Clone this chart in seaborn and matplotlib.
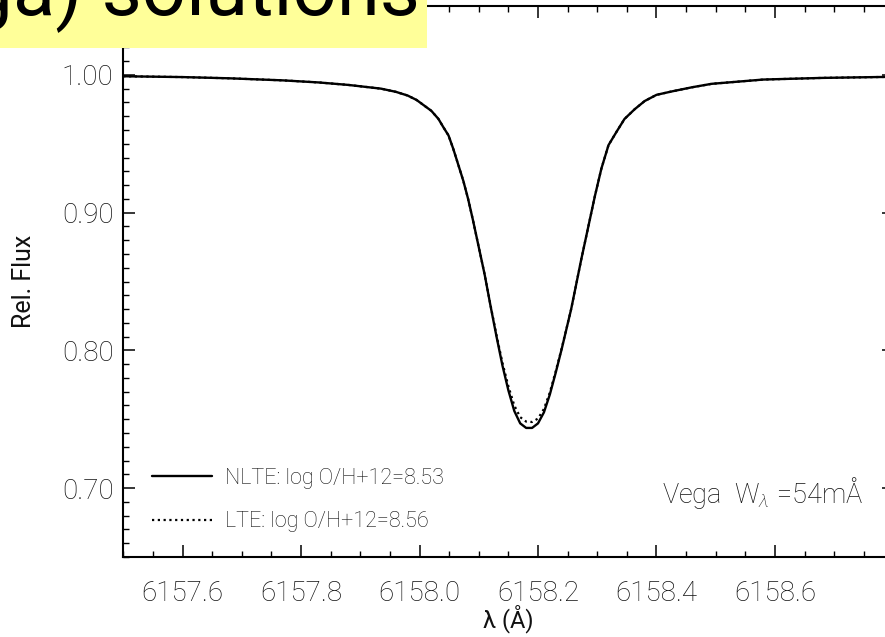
import matplotlib
matplotlib.use("Agg")
import matplotlib.pyplot as plt
import pandas as pd
import seaborn as sns
from matplotlib.ticker import MultipleLocator, FormatStrFormatter
from matplotlib.patches import Rectangle

# ---- data ----
wavelength = [6157.50, 6157.60, 6157.68, 6157.77, 6157.83, 6157.88, 6157.935, 6157.96,
              6157.98, 6157.995, 6158.008, 6158.02, 6158.032, 6158.04, 6158.049, 6158.057,
              6158.066, 6158.074, 6158.082, 6158.09, 6158.099, 6158.11, 6158.12, 6158.13,
              6158.14, 6158.15, 6158.16, 6158.17, 6158.18, 6158.19, 6158.20, 6158.21,
              6158.22, 6158.23, 6158.24, 6158.256, 6158.273, 6158.285, 6158.296, 6158.307,
              6158.319, 6158.333, 6158.346, 6158.363, 6158.38, 6158.40, 6158.426, 6158.46,
              6158.493, 6158.58, 6158.68, 6158.80]
nlte_flux = [0.9990, 0.9984, 0.9975, 0.9960, 0.9945, 0.9927, 0.9900, 0.9877,
             0.9850, 0.9818, 0.9777, 0.9739, 0.9680, 0.9622, 0.9560, 0.9463,
             0.9340, 0.9230, 0.9100, 0.8950, 0.8770, 0.8550, 0.8320, 0.8100,
             0.7890, 0.7710, 0.7560, 0.7470, 0.7437, 0.7437, 0.7470, 0.7550,
             0.7680, 0.7840, 0.8010, 0.8300, 0.8660, 0.8900, 0.9120, 0.9320,
             0.9490, 0.9590, 0.9680, 0.9750, 0.9810, 0.9855, 0.9880, 0.9910,
             0.9935, 0.9966, 0.9978, 0.9986]
lte_flux = [0.9990, 0.9984, 0.9975, 0.9960, 0.9945, 0.9927, 0.9900, 0.9877,
            0.9850, 0.9818, 0.9777, 0.9739, 0.9680, 0.9622, 0.9560, 0.9463,
            0.9340, 0.9230, 0.9100, 0.8950, 0.8770, 0.8550, 0.8325, 0.8110,
            0.7910, 0.7740, 0.7600, 0.7515, 0.7483, 0.7480, 0.7505, 0.7575,
            0.7695, 0.7850, 0.8015, 0.8300, 0.8660, 0.8900, 0.9120, 0.9320,
            0.9490, 0.9590, 0.9680, 0.9750, 0.9810, 0.9855, 0.9880, 0.9910,
            0.9935, 0.9966, 0.9978, 0.9986]
x_ticks = [6157.6, 6157.8, 6158.0, 6158.2, 6158.4, 6158.6]
y_ticks = [0.70, 0.80, 0.90, 1.00]
series_labels = ["NLTE: log O/H+12=8.53", "LTE: log O/H+12=8.56"]
annotation = "Vega  $\\mathrm{W}_{\\lambda}$ =54mÅ"
header = "(Vega) solutions"
x_label = "λ (Å)"
y_label = "Rel. Flux"

df_nlte = pd.DataFrame({"wl": wavelength, "flux": nlte_flux})
df_lte = pd.DataFrame({"wl": wavelength, "flux": lte_flux})

sns.set_theme(style="ticks")
plt.rcParams["font.family"] = ["Roboto", "DejaVu Sans"]
plt.rcParams["font.weight"] = "light"
plt.rcParams["mathtext.fontset"] = "custom"
plt.rcParams["mathtext.rm"] = "Roboto:light"
plt.rcParams["mathtext.it"] = "Roboto:italic:light"

W, H = 885, 637
fig = plt.figure(figsize=(W / 100, H / 100), dpi=100)
fig.patch.set_facecolor("white")

x0, x1 = 123.25, 893.5
y_top, y_bot = 6.0, 557.0
ax = fig.add_axes([x0 / W, 1 - y_bot / H, (x1 - x0) / W, (y_bot - y_top) / H])

txt_color = "#111111"

sns.lineplot(data=df_nlte, x="wl", y="flux", ax=ax, color="black", lw=1.7,
             label=series_labels[0], solid_joinstyle="round")
sns.lineplot(data=df_lte, x="wl", y="flux", ax=ax, color="black", lw=1.6,
             linestyle=(0, (1, 1.6)), label=series_labels[1])

ax.set_xlim(6157.5, 6158.8)
ax.set_ylim(0.65, 1.05)
ax.set_xticks(x_ticks)
ax.set_yticks(y_ticks)
ax.xaxis.set_major_formatter(FormatStrFormatter("%.1f"))
ax.yaxis.set_major_formatter(FormatStrFormatter("%.2f"))
ax.xaxis.set_minor_locator(MultipleLocator(0.05))
ax.yaxis.set_minor_locator(MultipleLocator(0.01))
ax.tick_params(which="both", direction="in", top=True, right=True,
               colors="black", labelcolor=txt_color)
ax.tick_params(which="major", length=8.6, width=1.1)
ax.tick_params(which="minor", length=4.3, width=1.0)
ax.tick_params(axis="x", which="major", labelsize=20, pad=16.5)
ax.tick_params(axis="y", which="major", labelsize=20, pad=7)
for s in ax.spines.values():
    s.set_linewidth(1.5)
    s.set_color("black")

ax.set_xlabel(x_label, fontsize=17, color=txt_color)
ax.set_ylabel(y_label, fontsize=18, color=txt_color)
ax.xaxis.set_label_coords(0.5, -0.087)
ax.yaxis.set_label_coords(-0.113, 0.5)

leg = ax.legend(loc="lower left", bbox_to_anchor=(0.037, 0.045), frameon=False,
                fontsize=15.5, handlelength=2.8, handletextpad=0.6,
                labelspacing=1.05, borderpad=0, borderaxespad=0)
for t in leg.get_texts():
    t.set_color(txt_color)

ax.text(0.9604, 0.098, annotation, transform=ax.transAxes, ha="right",
        va="baseline", fontsize=19.5, color=txt_color)

# slide header box (cropped at the top of the picture)
fig.patches.append(Rectangle((0, 1 - 48 / H), 427 / W, 48 / H,
                             transform=fig.transFigure, facecolor="#FFFF99",
                             edgecolor="none", zorder=5))
fig.text(420 / W, 1 - 15 / H, header, ha="right", va="baseline", fontsize=56,
         color="black", family=["Roboto"], fontweight="normal", zorder=6)

fig.savefig("out.png", dpi=100)
